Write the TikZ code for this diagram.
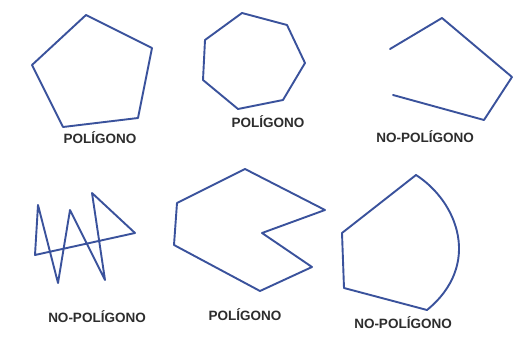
\documentclass[tikz,border=0pt]{standalone}
\usepackage{fontspec}
\setmainfont{Liberation Sans}
\usepackage{xcolor}
\usepackage{tikz}

\definecolor{trazo}{RGB}{58,82,156}
\definecolor{rotulo}{RGB}{45,45,45}

\begin{document}
\begin{tikzpicture}[
  x=1pt, y=-1pt,
  figura/.style={draw=trazo, line width=1.9pt, line join=round, line cap=round},
  rotulo/.style={font=\fontsize{13.5}{15}\selectfont\bfseries, text=rotulo,
                 inner sep=0pt}]

\useasboundingbox[fill=white] (0,0) rectangle (517,339);

%% ---- fila 1: pentágono, heptágono y línea abierta ----
\draw[figura] (86,15) -- (152,48) -- (138,118) -- (63,127) -- (32,65) -- cycle;
\node[rotulo] (lab1) at (100,138) {POLÍGONO};

\draw[figura] (242,13) -- (287,25) -- (305,63) -- (283,100) -- (238,109)
  -- (203,80) -- (205,40) -- cycle;
\node[rotulo] (lab2) at (268,122) {POLÍGONO};

% abierta: los dos extremos quedan sueltos
\draw[figura] (390,49) -- (442,18) -- (512,77) -- (484,120) -- (393,95);
\node[rotulo] (lab3) at (425,137) {NO-POLÍGONO};

%% ---- fila 2: zigzag cruzado, cóncavo y lado curvo ----
\draw[figura] (35,255) -- (38,205) -- (58,283) -- (70,210) -- (105,280)
  -- (92,193) -- (135,233) -- cycle;
\node[rotulo] (lab4) at (97,317) {NO-POLÍGONO};

\draw[figura] (245,169) -- (325,210) -- (262,233) -- (312,267) -- (260,291)
  -- (174,245) -- (177,203) -- cycle;
\node[rotulo] (lab5) at (245,315) {POLÍGONO};

\draw[figura] (416,175) .. controls (458,202) and (482,265) .. (427,310)
  -- (344,288) -- (342,233) -- cycle;
\node[rotulo] (lab6) at (403,323) {NO-POLÍGONO};
\end{tikzpicture}
\end{document}
